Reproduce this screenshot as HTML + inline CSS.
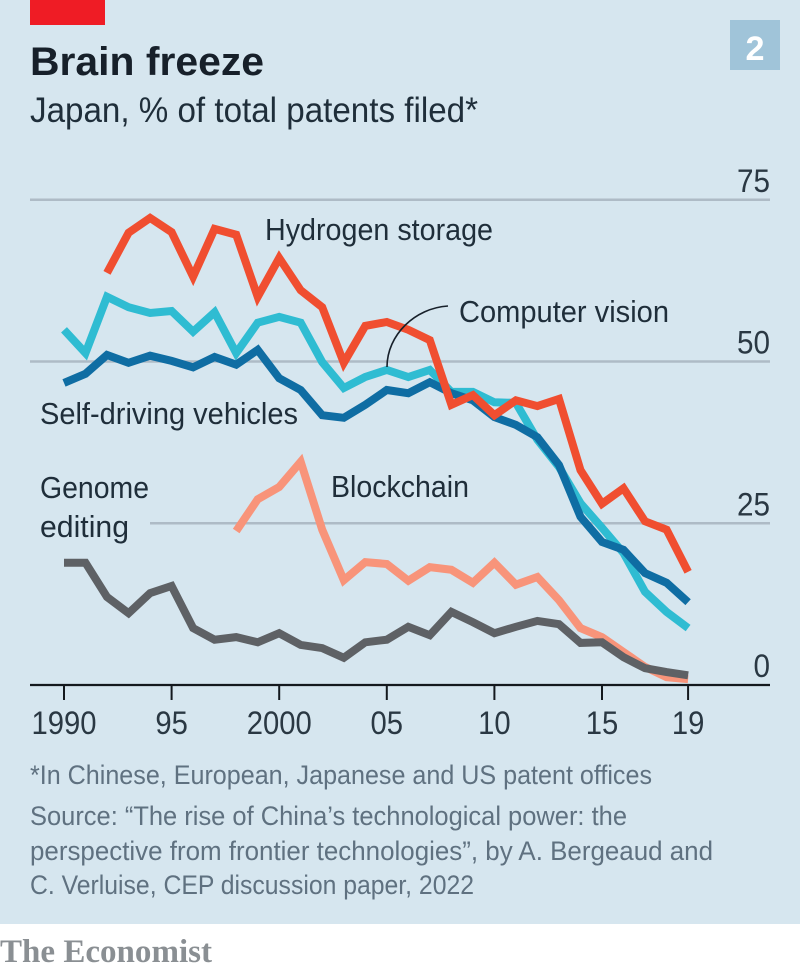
<!DOCTYPE html>
<html lang="en">
<head>
<meta charset="utf-8">
<title>Brain freeze</title>
<style>
  html, body { margin: 0; padding: 0; background: #ffffff; }
  body { width: 800px; height: 972px; overflow: hidden; }
  svg { display: block; }
  text { font-family: "Liberation Sans", sans-serif; }
  .lab { font-size: 31px; fill: #1f2e3a; }
  .tick { font-size: 32px; fill: #2a3843; }
  .note { font-size: 27px; fill: #5f7180; }
</style>
</head>
<body>
<svg id="chart" xmlns="http://www.w3.org/2000/svg" width="800" height="972" viewBox="0 0 800 972">
  <rect x="0" y="0" width="800" height="924" fill="#d6e6ef"/>
  <rect x="30" y="0" width="75" height="25" fill="#ef1c25"/>
  <rect x="730" y="20" width="50" height="50" fill="#a0c4d9"/>
  <text x="755" y="60" text-anchor="middle" font-size="34" font-weight="700" fill="#ffffff" textLength="19" lengthAdjust="spacingAndGlyphs">2</text>
  <text x="30" y="75" font-size="40" font-weight="700" fill="#17202a" textLength="234" lengthAdjust="spacingAndGlyphs">Brain freeze</text>
  <text x="30" y="122" font-size="35" fill="#1f2e3a" textLength="448" lengthAdjust="spacingAndGlyphs">Japan, % of total patents filed*</text>

  <g id="grid"></g>
  <g id="yticks"></g>
  <g id="series"></g>
  <g id="xaxis"></g>

  <path d="M387,367 C387,335 415,308 448,306" fill="none" stroke="#17202a" stroke-width="1.6"/>
  <text class="lab" x="265" y="240" textLength="228" lengthAdjust="spacingAndGlyphs">Hydrogen storage</text>
  <text class="lab" x="459" y="322" textLength="210" lengthAdjust="spacingAndGlyphs">Computer vision</text>
  <text class="lab" x="40" y="424" textLength="258" lengthAdjust="spacingAndGlyphs">Self-driving vehicles</text>
  <text class="lab" x="40" y="498" textLength="109" lengthAdjust="spacingAndGlyphs">Genome</text>
  <text class="lab" x="40" y="537" textLength="89" lengthAdjust="spacingAndGlyphs">editing</text>
  <text class="lab" x="331" y="497" textLength="138" lengthAdjust="spacingAndGlyphs">Blockchain</text>

  <text class="note" x="30" y="784" textLength="622" lengthAdjust="spacingAndGlyphs">*In Chinese, European, Japanese and US patent offices</text>
  <text class="note" x="30" y="825" textLength="597" lengthAdjust="spacingAndGlyphs">Source: “The rise of China’s technological power: the</text>
  <text class="note" x="30" y="860" textLength="683" lengthAdjust="spacingAndGlyphs">perspective from frontier technologies”, by A. Bergeaud and</text>
  <text class="note" x="30" y="894" textLength="444" lengthAdjust="spacingAndGlyphs">C. Verluise, CEP discussion paper, 2022</text>
  <text x="0" y="962" font-size="33" font-weight="700" fill="#8a8f93" textLength="212" lengthAdjust="spacingAndGlyphs" style="font-family:'Liberation Serif',serif">The Economist</text>
</svg>
<script>
const years = [1990,1991,1992,1993,1994,1995,1996,1997,1998,1999,2000,2001,2002,2003,2004,2005,2006,2007,2008,2009,2010,2011,2012,2013,2014,2015,2016,2017,2018,2019];
const hydrogenStorage = [null,null,63.7,69.9,72.2,70,63.1,70.5,69.6,60,66,61,58.4,49.8,55.5,56.1,54.9,53.3,43.3,44.8,41.7,44,43.1,44.2,33.2,28,30.4,25.3,24,17.5];
const computerVision = [54.9,51.3,60,58.4,57.5,57.8,54.6,57.6,51.3,56,56.9,56,49.9,45.9,47.6,48.7,47.6,48.7,45.3,45.3,43.7,43.6,37.9,33.7,28.1,24.3,20.4,14.4,11.3,8.8];
const selfDriving = [46.7,48.1,51,49.8,50.9,50.1,49.1,50.7,49.5,51.8,47.4,45.6,41.7,41.3,43.3,45.6,45.1,46.8,45.1,44,41.4,40.2,38.3,34,26,22.1,20.9,17.3,15.8,12.8];
const blockchain = [null,null,null,null,null,null,null,null,23.8,28.7,30.6,34.5,24,16.2,19,18.7,16.1,18.2,17.8,15.8,18.9,15.5,16.7,13.1,8.8,7.4,5.1,2.8,1.2,0.9];
const genomeEditing = [18.9,18.9,13.6,11.1,14.2,15.3,8.8,7,7.4,6.6,8,6.2,5.7,4.2,6.6,7,9,7.7,11.3,9.7,8,9,9.9,9.4,6.5,6.6,4.3,2.6,2,1.5];
const yTickValues = [75,50,25,0];
const yTickLabels = ["75","50","25","0"];
const xTickYears = [1990,1995,2000,2005,2010,2015,2019];
const xTickLabels = ["1990","95","2000","05","10","15","19"];

const NS = "http://www.w3.org/2000/svg";
function xScale(year) { return 64 + (year - 1990) * 21.52; }
function yScale(v) { return 685 - v * 6.47; }
function make(tag, attrs, parent) {
  const el = document.createElementNS(NS, tag);
  for (const k in attrs) el.setAttribute(k, attrs[k]);
  parent.appendChild(el);
  return el;
}
const gridG = document.getElementById("grid");
const yG = document.getElementById("yticks");
const xG = document.getElementById("xaxis");
const seriesG = document.getElementById("series");

yTickValues.forEach(function (v, i) {
  if (v !== 0) {
    const line = make("line", { x1: v === 25 ? 150 : 30, x2: 770, y1: yScale(v), y2: yScale(v), stroke: "#aebbc6", "stroke-width": 2.4 }, gridG);
    
    
  }
  const t = make("text", { class: "tick", x: 770, y: yScale(v) - 8, "text-anchor": "end" }, yG);
  t.textContent = yTickLabels[i];
  t.setAttribute('textLength', yTickLabels[i].length * 16.5);
  t.setAttribute('lengthAdjust', 'spacingAndGlyphs');
  
  
});

function drawSeries(values, color, name) {
  const pts = [];
  values.forEach(function (v, i) {
    if (v !== null) pts.push(xScale(years[i]).toFixed(1) + "," + yScale(v).toFixed(1));
  });
  const line = make("polyline", { points: pts.join(" "), fill: "none", stroke: color, "stroke-width": 8, "stroke-linejoin": "miter", "stroke-miterlimit": 4, "stroke-linecap": "butt" }, seriesG);
  
  
}
drawSeries(computerVision, "#2fbcd2", "line-computer-vision");
drawSeries(selfDriving, "#0f6da3", "line-self-driving-vehicles");
drawSeries(hydrogenStorage, "#f04e30", "line-hydrogen-storage");
drawSeries(blockchain, "#f8947a", "line-blockchain");
drawSeries(genomeEditing, "#5e6165", "line-genome-editing");

const axis = make("line", { x1: 30, x2: 770, y1: 685, y2: 685, stroke: "#14191e", "stroke-width": 2.2 }, xG);


xTickYears.forEach(function (yr, i) {
  const tick = make("line", { x1: xScale(yr), x2: xScale(yr), y1: 685, y2: 700, stroke: "#14191e", "stroke-width": 2 }, xG);
  
  
  const t = make("text", { class: "tick", x: xScale(yr), y: 734, "text-anchor": "middle" }, xG);
  t.textContent = xTickLabels[i];
  t.setAttribute('textLength', xTickLabels[i].length * 16.25);
  t.setAttribute('lengthAdjust', 'spacingAndGlyphs');
  
  
});
</script>
</body>
</html>
